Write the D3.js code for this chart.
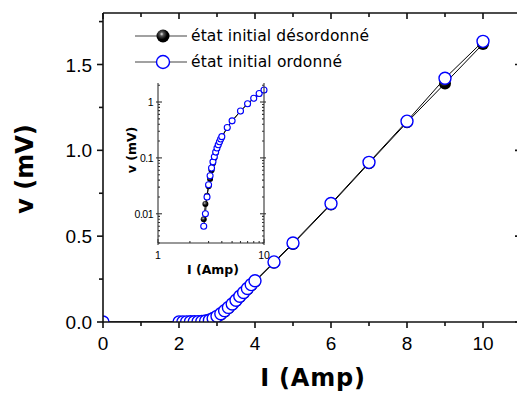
<!DOCTYPE html>
<html><head><meta charset="utf-8">
<script src="https://cdn.jsdelivr.net/npm/d3@7"></script>
<style>body{margin:0;background:#fff}svg{display:block}</style>
</head><body>
<svg id="c" width="517" height="394"></svg>
<script>
const currentA = [0,2.0,2.1,2.2,2.3,2.4,2.5,2.6,2.7,2.8,2.9,3.0,3.1,3.2,3.3,3.4,3.5,3.6,3.7,3.8,3.9,4.0,4.5,5,6,7,8,9,10];
const vOrdered = [0,0.0005,0.0007,0.001,0.0012,0.0015,0.002,0.0025,0.006,0.010,0.020,0.033,0.048,0.066,0.085,0.105,0.127,0.150,0.172,0.195,0.218,0.240,0.350,0.460,0.690,0.930,1.170,1.420,1.635];
const vDisordered = [0,0.0005,0.0007,0.001,0.0012,0.0015,0.002,0.0025,0.008,0.015,0.021,0.031,0.042,0.060,0.080,0.100,0.122,0.145,0.168,0.190,0.213,0.235,0.345,0.455,0.685,0.925,1.163,1.390,1.620];
const legendLabels = ["état initial désordonné","état initial ordonné"];
const xTicksMain = [0,2,4,6,8,10];
const yTicksMain = [0,0.5,1.0,1.5];
const insetYTicks = [0.01,0.1,1];
const insetXTicks = [1,10];

const svg = d3.select("#c");
const defs = svg.append("defs");
const grad = defs.append("radialGradient").attr("id","sph").attr("cx","40%").attr("cy","35%").attr("r","60%");
grad.append("stop").attr("offset","0%").attr("stop-color","#eee");
grad.append("stop").attr("offset","25%").attr("stop-color","#555");
grad.append("stop").attr("offset","70%").attr("stop-color","#000");

const L=103,R=521,T=13,B=322;
const x = d3.scaleLinear([0,11],[L,R]);
const y = d3.scaleLinear([0,1.8],[B,T]);
defs.append("clipPath").attr("id","clipM").append("rect").attr("x",L).attr("y",T).attr("width",R-L).attr("height",B-T);

const dis = currentA.map((c,i)=>({x:c,y:vDisordered[i]}));
const ord = currentA.map((c,i)=>({x:c,y:vOrdered[i]}));

const gM = svg.append("g").attr("clip-path","url(#clipM)");
const line = d3.line().x(d=>x(d.x)).y(d=>y(d.y));
gM.append("path").attr("d",line(dis)).attr("fill","none").attr("stroke","#000").attr("stroke-width",1);
gM.append("path").attr("d",line(ord)).attr("fill","none").attr("stroke","#000").attr("stroke-width",1);
gM.selectAll(".bd").data(dis).join("circle").attr("cx",d=>x(d.x)).attr("cy",d=>y(d.y)).attr("r",6).attr("fill","url(#sph)");
gM.selectAll(".bo").data(ord).join("circle").attr("cx",d=>x(d.x)).attr("cy",d=>y(d.y)).attr("r",6).attr("fill","#fff").attr("stroke","#0000ff").attr("stroke-width",1.4);

// axes
const ax = svg.append("g").attr("stroke","#111").attr("stroke-width",1.6);
ax.append("line").attr("x1",L).attr("x2",R).attr("y1",B).attr("y2",B);
ax.append("line").attr("x1",L).attr("x2",R).attr("y1",T).attr("y2",T);
ax.append("line").attr("x1",L).attr("x2",L).attr("y1",T).attr("y2",B);
ax.append("line").attr("x1",R).attr("x2",R).attr("y1",T).attr("y2",B);
const xAll = d3.range(0,12,1);
xAll.forEach(v=>{
  const len = v%2===0?6:4;
  ax.append("line").attr("x1",x(v)).attr("x2",x(v)).attr("y1",B).attr("y2",B+len);
  ax.append("line").attr("x1",x(v)).attr("x2",x(v)).attr("y1",T).attr("y2",T+len);
});
const yAll = d3.range(0,1.8,0.25);
yAll.forEach((v,i)=>{
  const len = i%2===0?6:4;
  ax.append("line").attr("x1",L-len).attr("x2",L).attr("y1",y(v)).attr("y2",y(v));
  ax.append("line").attr("x1",R-len).attr("x2",R).attr("y1",y(v)).attr("y2",y(v));
});
const tf = "'Liberation Sans', Arial, sans-serif";
svg.append("g").selectAll("text").data(xTicksMain).join("text")
  .attr("x",d=>x(d)).attr("y",350).attr("text-anchor","middle")
  .attr("font-family",tf).attr("font-size",19).text(d=>d);
svg.append("g").selectAll("text").data(yTicksMain).join("text")
  .attr("x",92).attr("y",d=>y(d)+7).attr("text-anchor","end")
  .attr("font-family",tf).attr("font-size",19).text(d=>d.toFixed(1));
const bf = "'DejaVu Sans', sans-serif";
svg.append("text").attr("x",313).attr("y",386).attr("text-anchor","middle")
  .attr("font-family",bf).attr("font-weight","bold").attr("font-size",24).attr("letter-spacing",0.8).text("I (Amp)");
svg.append("text").attr("transform","translate(33,169) rotate(-90)").attr("text-anchor","middle")
  .attr("font-family",bf).attr("font-weight","bold").attr("font-size",24).text("v (mV)");

// legend
const lg = svg.append("g");
[0,1].forEach(i=>{
  const ly = 36 + i*26;
  lg.append("line").attr("x1",135).attr("x2",187).attr("y1",ly).attr("y2",ly).attr("stroke","#444").attr("stroke-width",1.2);
  if(i===0) lg.append("circle").attr("cx",163).attr("cy",ly).attr("r",6.5).attr("fill","url(#sph)");
  else lg.append("circle").attr("cx",163).attr("cy",ly).attr("r",6.5).attr("fill","#fff").attr("stroke","#0000ff").attr("stroke-width",1.4);
  lg.append("text").attr("x",191).attr("y",ly+5).attr("font-family",bf).attr("font-size",15.5)
    .attr("textLength",i===0?178:151).attr("lengthAdjust","spacing").text(legendLabels[i]);
});

// inset
const iL=158,iR=264,iT=83,iB=243;
const xi = d3.scaleLog([1,10],[iL,iR]);
const yi = d3.scaleLog([0.003,2.1],[iB,iT+1]);
const dI = dis.filter(d=>d.x>0 && d.y>=0.003);
const oI = ord.filter(d=>d.x>0 && d.y>=0.003);
const gi = svg.append("g");
const li = d3.line().x(d=>xi(d.x)).y(d=>yi(d.y));
gi.append("path").attr("d",li(dI)).attr("fill","none").attr("stroke","#000").attr("stroke-width",0.9);
gi.append("path").attr("d",li(oI)).attr("fill","none").attr("stroke","#000").attr("stroke-width",0.9);
gi.selectAll(".a").data(dI).join("circle").attr("cx",d=>xi(d.x)).attr("cy",d=>yi(d.y)).attr("r",3).attr("fill","url(#sph)");
gi.selectAll(".b").data(oI).join("circle").attr("cx",d=>xi(d.x)).attr("cy",d=>yi(d.y)).attr("r",3).attr("fill","#fff").attr("stroke","#0000ff").attr("stroke-width",1.1);
const ia = svg.append("g").attr("stroke","#333").attr("stroke-width",1.1);
ia.append("line").attr("x1",iL).attr("x2",iL).attr("y1",iT).attr("y2",iB);
ia.append("line").attr("x1",iR).attr("x2",iR).attr("y1",iT).attr("y2",iB);
ia.append("line").attr("x1",iL).attr("x2",iR).attr("y1",iB).attr("y2",iB);
const yMinor = [];
[0.001,0.01,0.1,1].forEach(dec=>{for(let k=1;k<10;k++){const v=dec*k; if(v>=0.003&&v<=2.1) yMinor.push(v);}});
yMinor.forEach(v=>{
  const major = insetYTicks.some(t=>Math.abs(t-v)<1e-9);
  const len = major?4:2;
  ia.append("line").attr("x1",iL-(major?2:0)).attr("x2",iL+len).attr("y1",yi(v)).attr("y2",yi(v));
  ia.append("line").attr("x1",iR-len).attr("x2",iR+(major?2:0)).attr("y1",yi(v)).attr("y2",yi(v));
});
for(let k=1;k<=10;k++){
  const major = (k===1||k===10);
  ia.append("line").attr("x1",xi(k)).attr("x2",xi(k)).attr("y1",iB-(major?4:2)).attr("y2",iB+(major?2:0));
}
svg.append("g").selectAll("text").data(insetYTicks).join("text")
  .attr("x",153).attr("y",d=>yi(d)+4).attr("text-anchor","end")
  .attr("font-family",tf).attr("font-size",10.5).attr("letter-spacing",-0.5).text(d=>d);
svg.append("g").selectAll("text").data(insetXTicks).join("text")
  .attr("x",d=>xi(d)).attr("y",259).attr("text-anchor","middle")
  .attr("font-family",tf).attr("font-size",10.5).text(d=>d);
svg.append("text").attr("x",213).attr("y",274).attr("text-anchor","middle")
  .attr("font-family",bf).attr("font-weight","bold").attr("font-size",12.5).text("I (Amp)");
svg.append("text").attr("transform","translate(136,150) rotate(-90)").attr("text-anchor","middle")
  .attr("font-family",bf).attr("font-weight","bold").attr("font-size",12.5).text("v (mV)");
</script>
</body></html>
